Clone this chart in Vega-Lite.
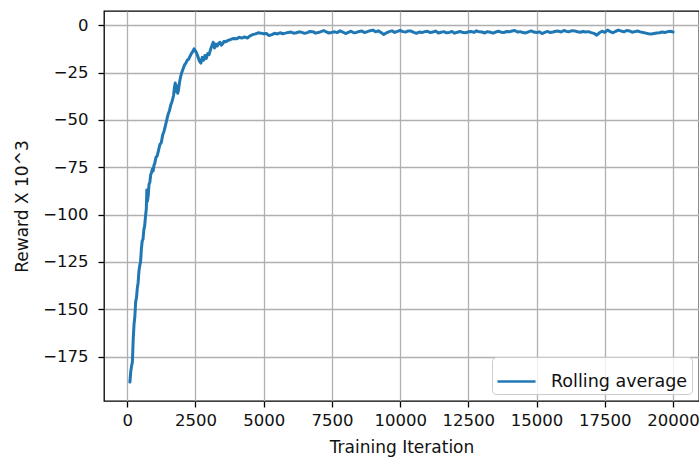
{
  "$schema": "https://vega.github.io/schema/vega-lite/v6.json",
  "width": 595,
  "height": 390,
  "autosize": {"type": "none"},
  "padding": {"left": 104, "top": 11, "right": 0, "bottom": 59},
  "background": "white",
  "config": {
    "font": "DejaVu Sans",
    "view": {"stroke": "#000", "strokeWidth": 1.3},
    "axis": {
      "domain": false,
      "grid": true,
      "gridColor": "#b0b0b0",
      "gridWidth": 1.3,
      "tickColor": "#000",
      "tickWidth": 1.3,
      "tickSize": 6,
      "labelFontSize": 16.5,
      "labelColor": "#111",
      "titleFontSize": 17,
      "titleColor": "#111",
      "titleFontWeight": "normal",
      "labelPadding": 5
    },
    "legend": {
      "orient": "bottom-right",
      "offset": 7,
      "fillColor": "rgba(255,255,255,0.8)",
      "strokeColor": "#cccccc",
      "cornerRadius": 4,
      "padding": 4,
      "symbolType": "stroke",
      "symbolSize": 1444,
      "symbolStrokeWidth": 2.5,
      "labelFontSize": 17.5,
      "labelColor": "#111",
      "labelOffset": 14
    }
  },
  "data": {
    "values": [
      {"iter": 100, "reward": -188.5}, {"iter": 130, "reward": -183}, {"iter": 160, "reward": -180},
      {"iter": 190, "reward": -178}, {"iter": 220, "reward": -166}, {"iter": 250, "reward": -158},
      {"iter": 280, "reward": -154}, {"iter": 310, "reward": -146}, {"iter": 340, "reward": -144},
      {"iter": 370, "reward": -139}, {"iter": 400, "reward": -136}, {"iter": 430, "reward": -130},
      {"iter": 460, "reward": -127}, {"iter": 490, "reward": -125}, {"iter": 520, "reward": -118},
      {"iter": 550, "reward": -114}, {"iter": 580, "reward": -113}, {"iter": 610, "reward": -108},
      {"iter": 640, "reward": -106}, {"iter": 670, "reward": -101}, {"iter": 700, "reward": -97},
      {"iter": 720, "reward": -87}, {"iter": 740, "reward": -93}, {"iter": 770, "reward": -90},
      {"iter": 800, "reward": -84}, {"iter": 830, "reward": -83}, {"iter": 860, "reward": -79},
      {"iter": 890, "reward": -78}, {"iter": 920, "reward": -76}, {"iter": 950, "reward": -77},
      {"iter": 980, "reward": -74}, {"iter": 1010, "reward": -73}, {"iter": 1050, "reward": -70},
      {"iter": 1100, "reward": -69}, {"iter": 1150, "reward": -66}, {"iter": 1200, "reward": -63},
      {"iter": 1250, "reward": -62}, {"iter": 1300, "reward": -58}, {"iter": 1350, "reward": -56},
      {"iter": 1400, "reward": -53}, {"iter": 1450, "reward": -50}, {"iter": 1500, "reward": -47},
      {"iter": 1550, "reward": -45}, {"iter": 1600, "reward": -42}, {"iter": 1650, "reward": -40},
      {"iter": 1700, "reward": -37}, {"iter": 1730, "reward": -33}, {"iter": 1760, "reward": -30.5},
      {"iter": 1790, "reward": -35}, {"iter": 1820, "reward": -32}, {"iter": 1850, "reward": -36},
      {"iter": 1880, "reward": -34}, {"iter": 1920, "reward": -30}, {"iter": 1960, "reward": -27},
      {"iter": 2000, "reward": -25}, {"iter": 2050, "reward": -23}, {"iter": 2100, "reward": -21},
      {"iter": 2150, "reward": -20}, {"iter": 2200, "reward": -18.5}, {"iter": 2250, "reward": -18},
      {"iter": 2300, "reward": -16.5}, {"iter": 2350, "reward": -15}, {"iter": 2400, "reward": -14},
      {"iter": 2450, "reward": -12.5}, {"iter": 2500, "reward": -13.5}, {"iter": 2550, "reward": -15},
      {"iter": 2600, "reward": -17}, {"iter": 2650, "reward": -19}, {"iter": 2700, "reward": -20},
      {"iter": 2750, "reward": -17}, {"iter": 2800, "reward": -18.5}, {"iter": 2850, "reward": -16},
      {"iter": 2900, "reward": -17.5}, {"iter": 2950, "reward": -15}, {"iter": 3000, "reward": -15.5},
      {"iter": 3050, "reward": -13}, {"iter": 3100, "reward": -11}, {"iter": 3150, "reward": -9},
      {"iter": 3200, "reward": -12}, {"iter": 3250, "reward": -10}, {"iter": 3300, "reward": -11},
      {"iter": 3350, "reward": -9.5}, {"iter": 3400, "reward": -9}, {"iter": 3450, "reward": -10.5},
      {"iter": 3500, "reward": -9.8}, {"iter": 3550, "reward": -8.5}, {"iter": 3600, "reward": -8.8},
      {"iter": 3700, "reward": -8}, {"iter": 3800, "reward": -7.5}, {"iter": 3900, "reward": -7},
      {"iter": 4000, "reward": -7.2}, {"iter": 4100, "reward": -6.4}, {"iter": 4200, "reward": -6.8},
      {"iter": 4300, "reward": -6.2}, {"iter": 4400, "reward": -6.8}, {"iter": 4500, "reward": -5.6},
      {"iter": 4600, "reward": -5}, {"iter": 4700, "reward": -4.6}, {"iter": 4800, "reward": -4},
      {"iter": 4900, "reward": -4.2}, {"iter": 5000, "reward": -4.5}, {"iter": 5100, "reward": -4.4},
      {"iter": 5200, "reward": -5.5}, {"iter": 5300, "reward": -5.0}, {"iter": 5400, "reward": -4.3},
      {"iter": 5500, "reward": -4.6}, {"iter": 5600, "reward": -4.0}, {"iter": 5700, "reward": -4.5},
      {"iter": 5800, "reward": -4.2}, {"iter": 5900, "reward": -3.8}, {"iter": 6000, "reward": -3.6},
      {"iter": 6100, "reward": -4.2}, {"iter": 6200, "reward": -4.0}, {"iter": 6300, "reward": -3.5},
      {"iter": 6400, "reward": -3.8}, {"iter": 6500, "reward": -4.3}, {"iter": 6600, "reward": -3.9},
      {"iter": 6700, "reward": -3.3}, {"iter": 6800, "reward": -3.4}, {"iter": 6900, "reward": -4.2},
      {"iter": 7000, "reward": -3.9}, {"iter": 7100, "reward": -3.4}, {"iter": 7200, "reward": -2.9},
      {"iter": 7300, "reward": -3.6}, {"iter": 7400, "reward": -4.1}, {"iter": 7500, "reward": -3.8},
      {"iter": 7600, "reward": -3.5}, {"iter": 7700, "reward": -3.9}, {"iter": 7800, "reward": -3.0},
      {"iter": 7900, "reward": -3.6}, {"iter": 8000, "reward": -4.4}, {"iter": 8100, "reward": -3.8},
      {"iter": 8200, "reward": -3.2}, {"iter": 8300, "reward": -4.0}, {"iter": 8400, "reward": -3.8},
      {"iter": 8500, "reward": -3.3}, {"iter": 8600, "reward": -3.1}, {"iter": 8700, "reward": -3.9},
      {"iter": 8800, "reward": -3.4}, {"iter": 8900, "reward": -2.9}, {"iter": 9000, "reward": -2.6},
      {"iter": 9100, "reward": -3.5}, {"iter": 9200, "reward": -3.0}, {"iter": 9300, "reward": -3.9},
      {"iter": 9400, "reward": -4.9}, {"iter": 9500, "reward": -4.0}, {"iter": 9600, "reward": -3.4},
      {"iter": 9700, "reward": -3.0}, {"iter": 9800, "reward": -3.8}, {"iter": 9900, "reward": -3.3},
      {"iter": 10000, "reward": -2.8}, {"iter": 10100, "reward": -3.4}, {"iter": 10200, "reward": -3.6},
      {"iter": 10300, "reward": -3.0}, {"iter": 10400, "reward": -3.1}, {"iter": 10500, "reward": -3.8},
      {"iter": 10600, "reward": -4.3}, {"iter": 10700, "reward": -3.6}, {"iter": 10800, "reward": -3.9},
      {"iter": 10900, "reward": -3.4}, {"iter": 11000, "reward": -3.2}, {"iter": 11100, "reward": -3.9},
      {"iter": 11200, "reward": -3.6}, {"iter": 11300, "reward": -3.1}, {"iter": 11400, "reward": -4.1},
      {"iter": 11500, "reward": -3.7}, {"iter": 11600, "reward": -3.4}, {"iter": 11700, "reward": -4.0},
      {"iter": 11800, "reward": -3.8}, {"iter": 11900, "reward": -3.3}, {"iter": 12000, "reward": -4.2},
      {"iter": 12100, "reward": -3.7}, {"iter": 12200, "reward": -3.3}, {"iter": 12300, "reward": -3.9},
      {"iter": 12400, "reward": -4.0}, {"iter": 12500, "reward": -3.5}, {"iter": 12600, "reward": -3.3},
      {"iter": 12700, "reward": -3.8}, {"iter": 12800, "reward": -3.0}, {"iter": 12900, "reward": -3.5},
      {"iter": 13000, "reward": -3.6}, {"iter": 13100, "reward": -4.1}, {"iter": 13200, "reward": -3.4},
      {"iter": 13300, "reward": -3.7}, {"iter": 13400, "reward": -4.2}, {"iter": 13500, "reward": -3.6},
      {"iter": 13600, "reward": -3.2}, {"iter": 13700, "reward": -3.7}, {"iter": 13800, "reward": -3.9},
      {"iter": 13900, "reward": -3.3}, {"iter": 14000, "reward": -3.5}, {"iter": 14100, "reward": -3.1},
      {"iter": 14200, "reward": -2.8}, {"iter": 14300, "reward": -3.6}, {"iter": 14400, "reward": -3.4},
      {"iter": 14500, "reward": -3.9}, {"iter": 14600, "reward": -4.1}, {"iter": 14700, "reward": -3.5},
      {"iter": 14800, "reward": -3.0}, {"iter": 14900, "reward": -3.6}, {"iter": 15000, "reward": -3.9},
      {"iter": 15100, "reward": -3.5}, {"iter": 15200, "reward": -4.4}, {"iter": 15300, "reward": -3.8},
      {"iter": 15400, "reward": -3.3}, {"iter": 15500, "reward": -3.9}, {"iter": 15600, "reward": -3.6},
      {"iter": 15700, "reward": -3.2}, {"iter": 15800, "reward": -3.1}, {"iter": 15900, "reward": -3.6},
      {"iter": 16000, "reward": -2.8}, {"iter": 16100, "reward": -3.3}, {"iter": 16200, "reward": -3.4},
      {"iter": 16300, "reward": -2.9}, {"iter": 16400, "reward": -3.0}, {"iter": 16500, "reward": -3.5},
      {"iter": 16600, "reward": -3.7}, {"iter": 16700, "reward": -3.3}, {"iter": 16800, "reward": -3.6},
      {"iter": 16900, "reward": -3.4}, {"iter": 17000, "reward": -3.9}, {"iter": 17100, "reward": -4.3},
      {"iter": 17200, "reward": -5.3}, {"iter": 17300, "reward": -4.0}, {"iter": 17400, "reward": -3.2},
      {"iter": 17500, "reward": -3.8}, {"iter": 17600, "reward": -2.6}, {"iter": 17700, "reward": -3.4},
      {"iter": 17800, "reward": -4.0}, {"iter": 17900, "reward": -3.2}, {"iter": 18000, "reward": -2.6},
      {"iter": 18100, "reward": -3.1}, {"iter": 18200, "reward": -3.5}, {"iter": 18300, "reward": -2.8},
      {"iter": 18400, "reward": -3.0}, {"iter": 18500, "reward": -3.7}, {"iter": 18600, "reward": -3.4},
      {"iter": 18700, "reward": -3.1}, {"iter": 18800, "reward": -3.5}, {"iter": 18900, "reward": -3.9},
      {"iter": 19000, "reward": -4.2}, {"iter": 19100, "reward": -4.5}, {"iter": 19200, "reward": -4.7},
      {"iter": 19300, "reward": -4.4}, {"iter": 19400, "reward": -4.1}, {"iter": 19500, "reward": -4.0},
      {"iter": 19600, "reward": -3.6}, {"iter": 19700, "reward": -3.9}, {"iter": 19800, "reward": -3.4},
      {"iter": 19900, "reward": -3.2}, {"iter": 20000, "reward": -3.6}
    ]
  },
  "mark": {"type": "line", "strokeWidth": 3, "strokeJoin": "round", "strokeCap": "round"},
  "encoding": {
    "x": {
      "field": "iter",
      "type": "quantitative",
      "scale": {"domain": [-850, 20950], "nice": false, "zero": false},
      "axis": {
        "values": [0, 2500, 5000, 7500, 10000, 12500, 15000, 17500, 20000],
        "format": "d",
        "title": "Training Iteration",
        "titlePadding": 11
      }
    },
    "y": {
      "field": "reward",
      "type": "quantitative",
      "scale": {"domain": [-198.5, 7.5], "nice": false, "zero": false},
      "axis": {
        "values": [-175, -150, -125, -100, -75, -50, -25, 0],
        "labelExpr": "replace(format(datum.value, 'd'), '-', '\u2212')",
        "labelPadding": 10,
        "title": "Reward X 10^3",
        "titlePadding": 11
      }
    },
    "color": {
      "datum": "Rolling average",
      "type": "nominal",
      "scale": {"range": ["#1f77b4"]},
      "legend": {"title": null}
    }
  }
}
